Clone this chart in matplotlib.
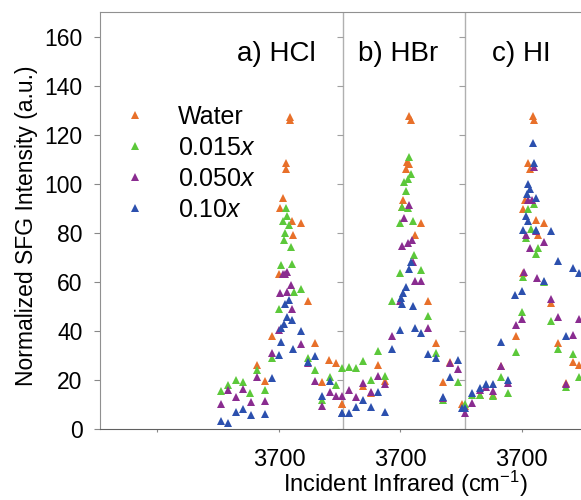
import matplotlib
matplotlib.use("Agg")
import matplotlib.pyplot as plt

plt.rcParams['font.family'] = ['Liberation Sans', 'DejaVu Sans']
plt.rcParams['mathtext.fontset'] = 'custom'
plt.rcParams['mathtext.rm'] = 'Liberation Sans'
plt.rcParams['mathtext.it'] = 'Liberation Sans:italic'

# panel names, shift of each panel along the shared x axis
panels = ['a) HCl', 'b) HBr', 'c) HI']
offsets = [0, 300, 600]
series = ['Water', '0.015$x$', '0.050$x$', '0.10$x$']
colors = ['#E8702A', '#5CC83A', '#8A2C90', '#2C50AE']

# (wavenumber, intensity) per panel and series
hcl_water_x = [3727, 3728, 3717, 3717, 3710, 3703, 3733, 3754, 3735, 3700, 3772, 3682, 3789, 3646, 3665, 3824, 3842, 3807, 3855]
hcl_water_y = [127, 126, 108.3, 106, 94, 90, 85, 84, 79, 63, 52, 38, 35, 26, 19.5, 28, 27, 19, 10]
hcl_015_x = [3717, 3721, 3710, 3725, 3715, 3712, 3730, 3704, 3733, 3738, 3754, 3700, 3682, 3646, 3665, 3594, 3612, 3575, 3557, 3628, 3772, 3789, 3826, 3842, 3807]
hcl_015_y = [90, 87, 85, 83, 80, 77, 74, 67, 67.4, 56, 57, 49, 29, 24, 16, 20, 19, 18, 15.6, 14.5, 29, 24, 21, 18, 12]
hcl_050_x = [3715, 3710, 3720, 3730, 3702, 3719, 3733, 3700, 3682, 3754, 3646, 3612, 3575, 3594, 3630, 3665, 3557, 3772, 3789, 3826, 3842, 3807]
hcl_050_y = [63, 63, 64, 58.6, 55.5, 56, 49, 40.5, 31, 34.5, 21, 16.5, 16, 13, 11, 11.5, 10, 27, 19.5, 15, 13.4, 9.4]
hcl_10_x = [3725, 3715, 3721, 3731, 3713, 3705, 3705, 3754, 3735, 3700, 3682, 3772, 3789, 3612, 3594, 3630, 3665, 3557, 3575, 3807, 3826, 3855]
hcl_10_y = [52.5, 51, 45.7, 44.3, 43, 41, 35.5, 40, 32.5, 30, 20.6, 27.4, 29.7, 8, 7, 5.7, 6.3, 3.3, 2.6, 13.4, 19.5, 6.4]

hbr_water_x = [3722, 3726, 3716, 3720, 3714, 3707, 3703, 3751, 3735, 3769, 3787, 3644, 3662, 3607, 3627, 3555, 3804, 3823, 3853]
hbr_water_y = [127.7, 126, 108.8, 108, 106, 93.4, 90.7, 84, 79, 52, 35, 26, 19.5, 17.5, 14.5, 10, 19, 27.4, 10]
hbr_015_x = [3722, 3726, 3718, 3709, 3713, 3705, 3718, 3699, 3730, 3734, 3751, 3698, 3679, 3769, 3787, 3644, 3607, 3555, 3573, 3591, 3627, 3662, 3841, 3804]
hbr_015_y = [111, 104, 102, 100.7, 97, 90.4, 90, 84, 84.7, 71, 64.7, 63.6, 52, 46, 31, 32, 27.8, 25, 25.3, 24.7, 20, 21.6, 19, 12]
hbr_050_x = [3722, 3709, 3718, 3728, 3705, 3730, 3735, 3751, 3698, 3679, 3769, 3823, 3841, 3644, 3662, 3607, 3573, 3591, 3627, 3555, 3804]
hbr_050_y = [91.5, 86, 76, 77, 74.6, 68, 60.3, 60.3, 52, 38, 41, 27, 24.3, 21.6, 18.2, 18.6, 16, 13, 15, 13.4, 12.7]
hbr_10_x = [3726, 3721, 3714, 3707, 3701, 3705, 3730, 3698, 3735, 3751, 3679, 3769, 3787, 3823, 3841, 3804, 3644, 3607, 3591, 3627, 3555, 3573, 3662, 3853]
hbr_10_y = [68, 65.3, 58, 55.5, 53.6, 51, 50, 40.3, 41, 39.3, 32.8, 30.4, 29, 21.3, 28, 13, 15, 12, 8.8, 8.8, 6.6, 6.6, 7, 8.4]

hi_water_x = [3728, 3730, 3716, 3720, 3707, 3703, 3735, 3755, 3739, 3703, 3773, 3685, 3790, 3649, 3827, 3841, 3596, 3629, 3809, 3559]
hi_water_y = [127.7, 126, 108.3, 106, 93.2, 89.8, 85.3, 84, 79, 63.7, 51.5, 38, 35, 25.8, 27.4, 26, 13.8, 13.8, 18.8, 9.4]
hi_015_x = [3716, 3730, 3722, 3709, 3739, 3735, 3703, 3755, 3701, 3685, 3773, 3790, 3827, 3841, 3649, 3666, 3629, 3596, 3578, 3809, 3559]
hi_015_y = [89.8, 91.8, 81.6, 77.8, 73.8, 71.2, 62, 60, 47.7, 31.4, 44, 32.8, 30.5, 21.3, 21, 14.5, 13.5, 13.8, 13.8, 17.2, 10]
hi_050_x = [3730, 3724, 3716, 3709, 3736, 3720, 3755, 3705, 3738, 3701, 3685, 3773, 3790, 3841, 3827, 3649, 3629, 3666, 3612, 3596, 3578, 3809, 3559]
hi_050_y = [107, 93.2, 93.4, 79, 80.7, 73.8, 76.2, 64, 61.6, 45, 42.3, 53.2, 45.7, 44.8, 38.2, 25.8, 15.6, 18.6, 17.2, 16, 10.7, 18.2, 6.4]
hi_10_x = [3728, 3730, 3716, 3721, 3712, 3735, 3709, 3716, 3703, 3735, 3773, 3790, 3827, 3841, 3755, 3701, 3683, 3649, 3809, 3666, 3629, 3612, 3596, 3578, 3559]
hi_10_y = [116.5, 108.3, 100, 98, 95.9, 94.3, 86.7, 85, 81.2, 81.2, 80.7, 68.5, 65.8, 63.6, 60.3, 56.3, 54.5, 35.5, 38, 19.9, 18.2, 18.2, 16.9, 14.5, 8.4]

data = [
    [(hcl_water_x, hcl_water_y), (hcl_015_x, hcl_015_y), (hcl_050_x, hcl_050_y), (hcl_10_x, hcl_10_y)],
    [(hbr_water_x, hbr_water_y), (hbr_015_x, hbr_015_y), (hbr_050_x, hbr_050_y), (hbr_10_x, hbr_10_y)],
    [(hi_water_x, hi_water_y), (hi_015_x, hi_015_y), (hi_050_x, hi_050_y), (hi_10_x, hi_10_y)],
]
separators = [3858, 4159]
xticks = [3400, 3700, 4000, 4300]
xticklabels = ['', '3700', '3700', '3700']
yticks = list(range(0, 161, 20))

fig = plt.figure(figsize=(5.81, 5.0), dpi=100)
ax = fig.add_axes([100 / 581, 1 - 429 / 500, 481 / 581, 417 / 500])

for p in range(3):
    for s in range(4):
        xs, ys = data[p][s]
        ax.plot([x + offsets[p] for x in xs], ys, linestyle='none', marker='^',
                markersize=5.5, markeredgewidth=0, color=colors[s],
                label=series[s] if p == 0 else None, zorder=3 + s * 0.01)

for sx in separators:
    ax.axvline(sx, color='#b0b0b0', linewidth=1.0, zorder=1)
    ax.plot([sx] * len(yticks), yticks, linestyle='none', marker=0,
            markersize=4, color='#a0a0a0', markeredgewidth=0.8, zorder=1)

title_x = [3596, 3896, 4226]
for p in range(3):
    ax.text(title_x[p], 153, panels[p], fontsize=20, ha='left', va='center')

ax.set_xlim(3258, 4446)
ax.set_ylim(0, 170)
ax.set_xticks(xticks)
ax.set_xticklabels(xticklabels)
ax.set_yticks(yticks)
ax.tick_params(axis='y', direction='out', length=4, width=0.8, color='#888888',
               labelsize=16.5, pad=8.5)
ax.tick_params(axis='x', direction='out', length=2.5, width=0.8, color='#888888',
               labelsize=17, pad=12)

for side in ['left', 'top']:
    ax.spines[side].set_color('#909090')
ax.spines['bottom'].set_color('#606060')
ax.spines['right'].set_visible(False)

ax.set_ylabel('Normalized SFG Intensity (a.u.)', fontsize=16.5)
ax.yaxis.set_label_coords(-0.129, 0.487)
ax.set_xlabel('Incident Infrared (cm$^{-1}$)', fontsize=17)
ax.xaxis.set_label_coords(0.634, -0.096)

ax.legend(loc='upper left', bbox_to_anchor=(0.052, 0.778), frameon=False,
          fontsize=18, handlelength=0.8, handletextpad=1.3, labelspacing=0.28,
          borderpad=0, borderaxespad=0, numpoints=1, markerscale=1.0)

fig.savefig('out.png', dpi=100)
